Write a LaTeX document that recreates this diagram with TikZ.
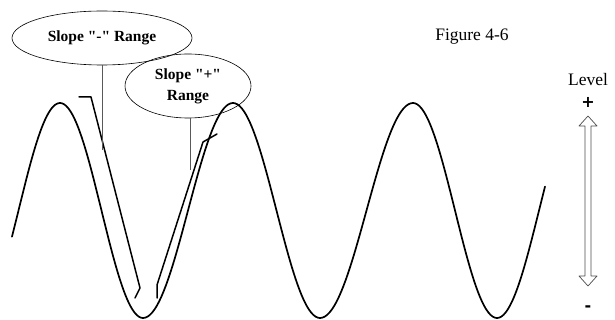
\documentclass[tikz,border=0pt]{standalone}
\usepackage{fontspec}
\setmainfont{Liberation Serif}
\newfontfamily\bubfont{Liberation Serif}
\newfontfamily\signfont{DejaVu Sans}
\usetikzlibrary{shapes.geometric}
\tikzset{
  wave/.style={line width=1.7pt, line join=round, line cap=round},
  thin/.style={line width=0.6pt, gray!70!black},
  bubble/.style={ellipse, draw, line width=0.6pt, inner sep=0pt, align=center,
    font=\bubfont\bfseries\fontsize{15.5}{21}\selectfont},
  lbl/.style={font=\fontsize{17.5}{19}\selectfont},
  sign/.style={font=\signfont\bfseries\fontsize{16}{16}\selectfont},
}
\newcommand{\ymid}{210.5}
\newcommand{\amp}{107.5}
\begin{document}
\begin{tikzpicture}[x=1pt,y=-1pt]
\useasboundingbox (0,0) rectangle (615,320);
% sine wave, half-period segments between extrema
\draw[wave] plot[domain=12:60, samples=30, smooth] (\x, {\ymid-\amp*cos((\x-60)/83*180)})
  -- plot[domain=60:143, samples=40, smooth] (\x, {\ymid-\amp*cos((\x-60)/83*180)})
  -- plot[domain=143:233, samples=40, smooth] (\x, {\ymid+\amp*cos((\x-143)/90*180)})
  -- plot[domain=233:320, samples=40, smooth] (\x, {\ymid-\amp*cos((\x-233)/87*180)})
  -- plot[domain=320:413, samples=40, smooth] (\x, {\ymid+\amp*cos((\x-320)/93*180)})
  -- plot[domain=413:497, samples=40, smooth] (\x, {\ymid-\amp*cos((\x-413)/84*180)})
  -- plot[domain=497:545, samples=30, smooth] (\x, {\ymid+\amp*cos((\x-497)/84*180)});
% brackets
\draw[wave, line width=1.5pt] (79,97) -- (91,97) -- (140,288) -- (135,298);
\draw[wave, line width=1.5pt] (157,298) -- (157,285) -- (203,142) -- (217,134);
% bubbles
\node[bubble, minimum width=180pt, minimum height=54pt] (sm) at (102,38) {Slope "-" Range};
\node[bubble, minimum width=126pt, minimum height=64pt] (sp) at (188,86) {Slope "+"\\Range};
\coordinate (smend) at (102,150);
\coordinate (spend) at (190,170);
\draw[thin] (sm.south -| smend) -- (smend);
\draw[thin] (sp.south -| spend) -- (spend);
% labels
\node[lbl] (fig) at (472,37) {Figure 4-6};
\node[lbl] (lev) at (588,80) {Level};
\node[sign] (plus) at (588,102) {+};
\node[sign] (minus) at (588,309) {-};
% hollow double arrow
\draw[line width=0.7pt, gray!60!black, line join=round]
  (588,116) -- (597,126) -- (591,126) -- (591,276) -- (597,276) -- (588,286)
  -- (579,276) -- (585,276) -- (585,126) -- (579,126) -- cycle;
\end{tikzpicture}
\end{document}
